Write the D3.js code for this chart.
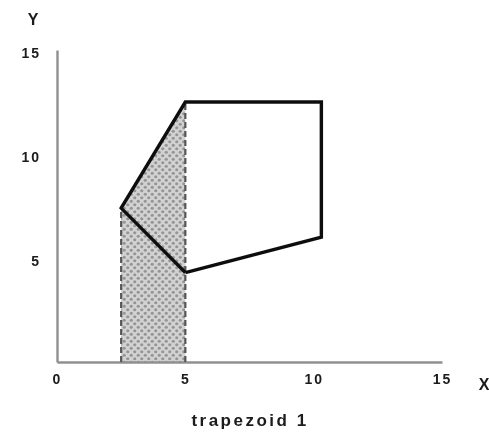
<!DOCTYPE html>
<html>
<head>
<meta charset="utf-8">
<script src="https://cdn.jsdelivr.net/npm/d3@7"></script>
<style>
  html, body { margin: 0; padding: 0; background: #fff; }
  text { font-family: "Liberation Sans", Arial, sans-serif; font-weight: bold; fill: #1a1a1a; }
</style>
</head>
<body>
<svg id="chart" width="489" height="434"></svg>
<script>
// ---- data ----
const xTicks = [0, 5, 10, 15];
const yTicks = [5, 10, 15];
const xTickLabels = ["0", "5", "10", "15"];
const yTickLabels = ["5", "10", "15"];
const polygonX = [2.5, 5, 10.3, 10.3, 5];
const polygonY = [7.4, 12.5, 12.5, 6, 4.3];
const trapezoidX = [2.5, 2.5, 5, 5];
const trapezoidY = [0, 7.4, 12.5, 0];
const xLabel = "X";
const yLabel = "Y";
const caption = "trapezoid 1";

// ---- layout ----
const svg = d3.select("#chart");
const x = d3.scaleLinear().domain([0, 15]).range([57, 442]);
const y = d3.scaleLinear().domain([0, 15]).range([362, 50]);

const defs = svg.append("defs");
const pat = defs.append("pattern")
  .attr("id", "stipple").attr("patternUnits", "userSpaceOnUse")
  .attr("width", 7).attr("height", 7);
pat.append("rect").attr("width", 7).attr("height", 7).attr("fill", "#d2d2d2");
pat.append("circle").attr("cx", 1.75).attr("cy", 1.75).attr("r", 1.6).attr("fill", "#959595");
pat.append("circle").attr("cx", 5.25).attr("cy", 5.25).attr("r", 1.6).attr("fill", "#959595");
defs.append("filter").attr("id", "soft")
  .append("feGaussianBlur").attr("stdDeviation", 0.7);

const g = svg.append("g").attr("filter", "url(#soft)");

// shaded trapezoid
const trapPts = trapezoidX.map((d, i) => [x(d), y(trapezoidY[i])]);
g.append("path")
  .attr("d", d3.line()(trapPts) + "Z")
  .attr("fill", "url(#stipple)")
  .attr("stroke", "none");

// axes
const xAxis = d3.axisBottom(x).tickValues(xTicks).tickSize(0)
  .tickFormat((d, i) => xTickLabels[i]);
const yAxis = d3.axisLeft(y).tickValues(yTicks).tickSize(0)
  .tickFormat((d, i) => yTickLabels[i]);

const gx = g.append("g").attr("transform", `translate(0,${y(0)})`).call(xAxis);
gx.select(".domain").attr("stroke", "#909090").attr("stroke-width", 2.4);
gx.selectAll(".tick text")
  .attr("font-size", 14).attr("dy", "1.05em").attr("y", 7)
  .attr("letter-spacing", 2)
  .style("font-family", "'Liberation Sans', Arial, sans-serif").style("font-weight", "bold").attr("fill", "#1a1a1a");

const gy = g.append("g").attr("transform", `translate(${x(0)},0)`).call(yAxis);
gy.select(".domain").attr("stroke", "#909090").attr("stroke-width", 2.4);
gy.selectAll(".tick text")
  .attr("font-size", 14).attr("x", -16).attr("dy", "0.5em")
  .attr("letter-spacing", 2)
  .style("font-family", "'Liberation Sans', Arial, sans-serif").style("font-weight", "bold").attr("fill", "#1a1a1a");

// dashed verticals of the trapezoid
g.append("line")
  .attr("x1", x(trapezoidX[0])).attr("x2", x(trapezoidX[1]))
  .attr("y1", y(trapezoidY[0])).attr("y2", y(trapezoidY[1]))
  .attr("stroke", "#555").attr("stroke-width", 2.2).attr("stroke-dasharray", "6,3");
g.append("line")
  .attr("x1", x(trapezoidX[3])).attr("x2", x(trapezoidX[2]))
  .attr("y1", y(trapezoidY[3])).attr("y2", y(trapezoidY[2]))
  .attr("stroke", "#555").attr("stroke-width", 2.2).attr("stroke-dasharray", "6,3");

// polygon solid edges (all except the x=5 side)
const polyPts = polygonX.map((d, i) => [x(d), y(polygonY[i])]);
g.append("path")
  .attr("d", d3.line()([polyPts[4], polyPts[0], polyPts[1], polyPts[2], polyPts[3], polyPts[4]]))
  .attr("fill", "none")
  .attr("stroke", "#111").attr("stroke-width", 3.4).attr("stroke-linejoin", "miter");

// axis titles
g.append("text").attr("x", 484).attr("y", 390).attr("text-anchor", "middle")
  .attr("font-size", 16).text(xLabel);
g.append("text").attr("x", 33).attr("y", 25).attr("text-anchor", "middle")
  .attr("font-size", 16).text(yLabel);

// caption
g.append("text").attr("x", 250).attr("y", 426).attr("text-anchor", "middle")
  .attr("font-size", 17).attr("letter-spacing", 2.5).text(caption);
</script>
</body>
</html>
